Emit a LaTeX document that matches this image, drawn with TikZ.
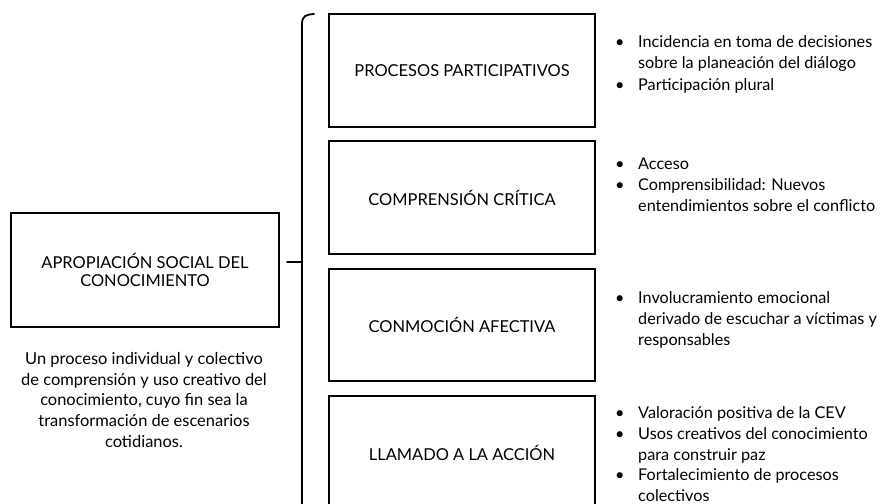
\documentclass[tikz,border=0pt]{standalone}
\usepackage{fontspec}
\setmainfont{Lato}
\begin{document}
\begin{tikzpicture}[x=1bp,y=-1bp,
  box/.style={draw=black,line width=1.8bp,minimum width=266bp,minimum height=113bp,inner sep=0pt,font=\fontsize{16.5}{19}\selectfont,align=center},
  lbox/.style={draw=black,line width=1.8bp,minimum width=268bp,minimum height=114bp,inner sep=0pt,font=\fontsize{16.5}{18.5}\selectfont,align=center},
  blist/.style={anchor=north west,inner sep=0pt,align=left,font=\fontsize{16.3}{21.3}\selectfont},
  desc/.style={inner sep=0pt,align=center,font=\fontsize{16.5}{21}\selectfont},
  brace/.style={line width=1.8bp,line cap=round}]
\useasboundingbox (0,0) rectangle (880,504);
\fill[white] (0,0) rectangle (880,504);
\newcommand{\bul}{\rule{0pt}{14bp}\makebox[23bp][l]{\textbullet}}
\newcommand{\ind}{\hspace*{23bp}}
% left box
\node[lbox] (apro) at (145,270) {APROPIACIÓN SOCIAL DEL\\CONOCIMIENTO};
\node[desc] (desc) at (144,400) {Un proceso individual y colectivo\\de comprensión y uso creativo del\\conocimiento, cuyo fin sea la\\transformación de escenarios\\cotidianos.};
% boxes
\node[box] (b1) at (462,70.5) {PROCESOS PARTICIPATIVOS};
\node[box] (b2) at (462,197.5) {COMPRENSIÓN CRÍTICA};
\node[box,minimum height=112bp] (b3) at (462,325) {CONMOCIÓN AFECTIVA};
\node[box,minimum height=114bp] (b4) at (462,453) {LLAMADO A LA ACCIÓN};
% bracket
\coordinate (btop) at (314,14);
\coordinate (bbot) at (302,512);
\coordinate (tickL) at (287,262);
\coordinate (tickR) at (302,262);
\draw[brace] (btop) .. controls (306,14.5) and (302,16) .. (302,24) -- (bbot);
\draw[brace] (tickL) -- (tickR);
% bullet lists
\node[blist] (l1) at (615,33.5) {\bul Incidencia en toma de decisiones\\\ind sobre la planeación del diálogo\\\bul Participación plural};
\node[blist] (l2) at (615,155) {\bul Acceso\\\bul Comprensibilidad: Nuevos\\\ind entendimientos sobre el conflicto};
\node[blist] (l3) at (615,289) {\bul Involucramiento emocional\\\ind derivado de escuchar a víctimas y\\\ind responsables};
\node[blist,font=\fontsize{16.3}{20.8}\selectfont] (l4) at (615,404.5) {\bul Valoración positiva de la CEV\\\bul Usos creativos del conocimiento\\\ind para construir paz\\\bul Fortalecimiento de procesos\\\ind colectivos};
\end{tikzpicture}
\end{document}
